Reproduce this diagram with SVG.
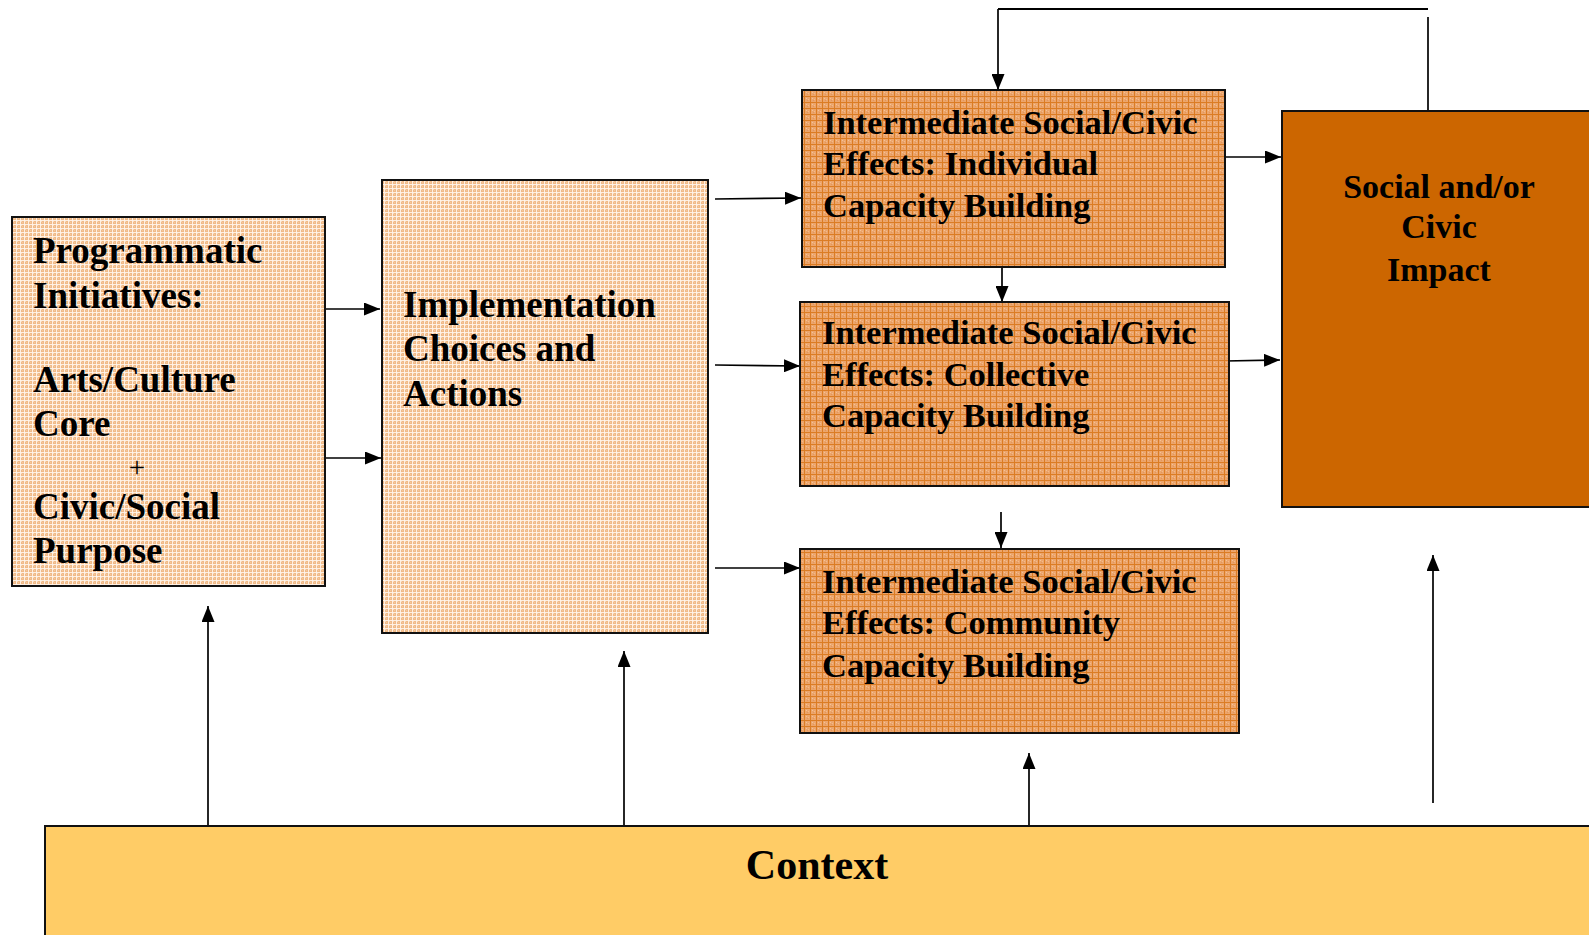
<svg xmlns="http://www.w3.org/2000/svg" width="1589" height="935" viewBox="0 0 1589 935">
<style>
.t{font-family:"Liberation Serif","Times New Roman",serif;font-weight:bold;fill:#000}
.box{stroke:#111;stroke-width:2}
.ln{stroke:#000;stroke-width:1.7;fill:none}
</style>
<defs>
<pattern id="light" width="4" height="4" patternUnits="userSpaceOnUse">
<rect width="4" height="4" fill="#F0BA88"/>
<rect x="1" y="1" width="1" height="1" fill="#F8D8B8"/>
<rect x="2" y="2" width="1" height="1" fill="#F5CA9F"/>
<rect x="0" y="0" width="4" height="1" fill="#FFF6EC" opacity="0.9"/>
<rect x="0" y="0" width="1" height="4" fill="#FFF6EC" opacity="0.9"/>
</pattern>
<pattern id="mid" width="6" height="6" patternUnits="userSpaceOnUse">
<rect width="6" height="6" fill="#ECA56C"/>
<rect x="2" y="2" width="1" height="1" fill="#F5C396"/>
<rect x="4" y="3" width="1" height="1" fill="#F2BA8A"/>
<rect x="3" y="4" width="1" height="1" fill="#E3955A"/>
<rect x="0" y="0" width="6" height="1" fill="#DB7C24"/>
<rect x="0" y="0" width="1" height="6" fill="#DB7C24"/>
</pattern>
<marker id="ah" markerWidth="16" markerHeight="13" refX="16" refY="6.5" orient="auto" markerUnits="userSpaceOnUse">
<path d="M0,0 L16,6.5 L0,13 Z" fill="#000"/>
</marker>
</defs>
<rect width="1589" height="935" fill="#fff"/>

<g id="connectors">
<line class="ln" x1="320" y1="309" x2="380" y2="309" marker-end="url(#ah)"/>
<line class="ln" x1="323" y1="458" x2="381" y2="458" marker-end="url(#ah)"/>
<line class="ln" x1="715" y1="199" x2="801" y2="198" marker-end="url(#ah)"/>
<line class="ln" x1="715" y1="365" x2="800" y2="366" marker-end="url(#ah)"/>
<line class="ln" x1="715" y1="568" x2="800" y2="568" marker-end="url(#ah)"/>
<line class="ln" x1="1225" y1="157" x2="1281" y2="157" marker-end="url(#ah)"/>
<line class="ln" x1="1225" y1="361" x2="1280" y2="360" marker-end="url(#ah)"/>
<line class="ln" x1="1002" y1="267" x2="1002" y2="302" marker-end="url(#ah)"/>
<line class="ln" x1="1001" y1="512" x2="1001" y2="548" marker-end="url(#ah)"/>
<line class="ln" x1="998" y1="9" x2="1428" y2="9" style="stroke-width:2"/>
<line class="ln" x1="1428" y1="17" x2="1428" y2="111"/>
<line class="ln" x1="998" y1="9" x2="998" y2="90" marker-end="url(#ah)"/>
<line class="ln" x1="208" y1="826" x2="208" y2="606" marker-end="url(#ah)"/>
<line class="ln" x1="624" y1="826" x2="624" y2="651" marker-end="url(#ah)"/>
<line class="ln" x1="1029" y1="826" x2="1029" y2="753" marker-end="url(#ah)"/>
<line class="ln" x1="1433" y1="803" x2="1433" y2="555" marker-end="url(#ah)"/>
</g>

<g id="programmatic">
<rect class="box" x="12" y="217" width="313" height="369" fill="url(#light)"/>
<text class="t" font-size="37"><tspan x="33" y="263">Programmatic</tspan><tspan x="33" y="308">Initiatives:</tspan><tspan x="33" y="392">Arts/Culture</tspan><tspan x="33" y="436">Core</tspan><tspan x="33" y="519">Civic/Social</tspan><tspan x="33" y="563">Purpose</tspan></text>
<text x="137" y="477" font-family="Liberation Serif, serif" font-size="29" text-anchor="middle">+</text>
</g>

<g id="implementation">
<rect class="box" x="382" y="180" width="326" height="453" fill="url(#light)"/>
<text class="t" font-size="37"><tspan x="403" y="317">Implementation</tspan><tspan x="403" y="361">Choices and</tspan><tspan x="403" y="406">Actions</tspan></text>
</g>

<g id="individual">
<rect class="box" x="802" y="90" width="423" height="177" fill="url(#mid)"/>
<text class="t" font-size="34.5"><tspan x="823" y="134">Intermediate Social/Civic</tspan><tspan x="823" y="175">Effects: Individual</tspan><tspan x="823" y="217">Capacity Building</tspan></text>
</g>

<g id="collective">
<rect class="box" x="800" y="302" width="429" height="184" fill="url(#mid)"/>
<text class="t" font-size="34.5"><tspan x="822" y="344">Intermediate Social/Civic</tspan><tspan x="822" y="386">Effects: Collective</tspan><tspan x="822" y="427">Capacity Building</tspan></text>
</g>

<g id="community">
<rect class="box" x="800" y="549" width="439" height="184" fill="url(#mid)"/>
<text class="t" font-size="34.5"><tspan x="822" y="593">Intermediate Social/Civic</tspan><tspan x="822" y="634">Effects: Community</tspan><tspan x="822" y="677">Capacity Building</tspan></text>
</g>

<g id="impact">
<rect class="box" x="1282" y="111" width="320" height="396" fill="#CC6600"/>
<text class="t" font-size="34" text-anchor="middle"><tspan x="1439" y="198">Social and/or</tspan><tspan x="1439" y="238">Civic</tspan><tspan x="1439" y="281">Impact</tspan></text>
</g>

<g id="context">
<rect class="box" x="45" y="826" width="1560" height="120" fill="#FFCC66"/>
<text class="t" font-size="42" x="817" y="879" text-anchor="middle">Context</text>
</g>
</svg>
